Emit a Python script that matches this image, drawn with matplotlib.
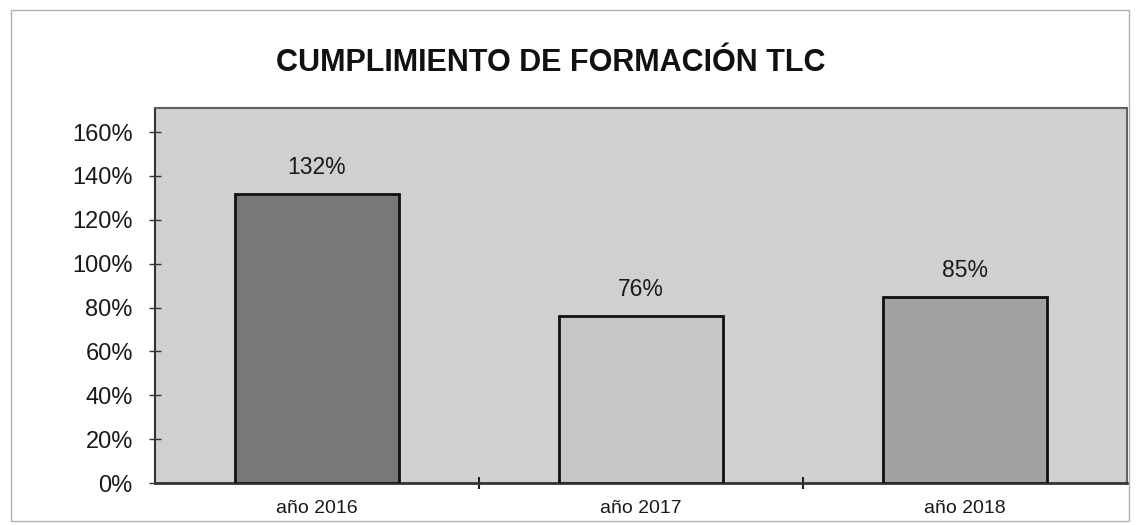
import matplotlib
matplotlib.use("Agg")
import matplotlib.pyplot as plt
from matplotlib.patches import Rectangle
from matplotlib.ticker import FixedLocator

plt.rcParams['font.family'] = ['Liberation Sans', 'DejaVu Sans']

title = "CUMPLIMIENTO DE FORMACIÓN TLC"
categories = ["año 2016", "año 2017", "año 2018"]
values = [132, 76, 85]
value_labels = ["132%", "76%", "85%"]
bar_colors = ["#787878", "#c6c6c6", "#a2a2a2"]
yticks = [0, 20, 40, 60, 80, 100, 120, 140, 160]
ytick_labels = [f"{v}%" for v in yticks]

W, H = 1137, 525
fig = plt.figure(figsize=(W / 100, H / 100), dpi=100)
fig.patch.set_facecolor("white")

# outer chart frame
fig.add_artist(Rectangle((11 / W, 1 - 521 / H), (1129 - 11) / W, (521 - 10) / H,
                         transform=fig.transFigure, fill=False,
                         edgecolor="#b0b0b0", linewidth=1.0))

ax = fig.add_axes([155 / W, 1 - 483 / H, (1127 - 155) / W, (483 - 108) / H])
ax.set_facecolor("#d0d0d0")

x = list(range(len(categories)))
ax.bar(x, values, width=0.505, color=bar_colors, edgecolor="#111111", linewidth=2.0, zorder=3)

ax.set_xlim(-0.5, len(categories) - 0.5)
ax.set_ylim(0, 171)
ax.set_yticks(yticks)
ax.set_yticklabels(ytick_labels, fontsize=17, color="#1a1a1a")
ax.set_xticks(x)
ax.set_xticklabels(categories, fontsize=14, color="#1a1a1a")
ax.tick_params(axis="x", length=0, pad=12)
ax.tick_params(axis="y", direction="inout", length=8, width=1, pad=12, color="#333333")
ax.xaxis.set_minor_locator(FixedLocator([0.5, 1.5]))
ax.tick_params(axis="x", which="minor", direction="inout", length=8, width=1.5, color="#222222")

for s in ["top", "right"]:
    ax.spines[s].set_color("#606060")
    ax.spines[s].set_linewidth(1.5)
ax.spines["left"].set_color("#333333")
ax.spines["left"].set_linewidth(1.5)
ax.spines["bottom"].set_color("#333333")
ax.spines["bottom"].set_linewidth(2)

for xi, v, lab in zip(x, values, value_labels):
    ax.annotate(lab, (xi, v), xytext=(0, 19), textcoords="offset points",
                ha="center", va="center", fontsize=16.5, color="#1a1a1a")

fig.text(551 / W, 1 - 63 / H, title, ha="center", va="center",
         fontsize=22, fontweight="bold", color="#111111")

fig.savefig("out.png", dpi=100, facecolor="white")
